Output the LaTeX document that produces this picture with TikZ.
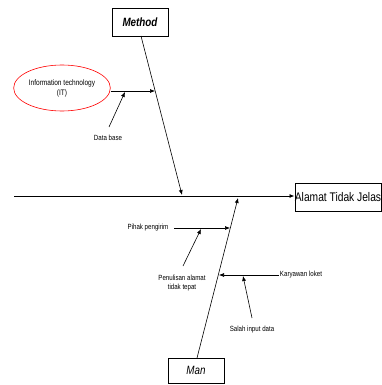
\documentclass[tikz,border=0pt]{standalone}
\usepackage{fontspec}
\setmainfont[FakeStretch=0.82]{Liberation Sans}
\usetikzlibrary{shapes.geometric,arrows.meta}

\tikzset{
  bone/.style={draw=black, semithick},
  tip/.style={-{Latex[length=5pt,width=4pt]}},
  catbox/.style={draw=black, thick, minimum width=56pt, minimum height=28pt, inner sep=0pt, font=\fontsize{12}{14}\selectfont\itshape},
  cause/.style={font=\fontsize{7.5}{9}\selectfont, align=center, inner sep=1pt}
}

\begin{document}
\begin{tikzpicture}[x=1pt,y=-1pt]
        \useasboundingbox (0,0) rectangle (382,385);
        % head and categories
        \node[catbox, minimum width=86pt, font=\fontsize{12.5}{14}\selectfont] (effect) at (338,197) {Alamat Tidak Jelas};
        \node[catbox, font=\fontsize{12}{14}\selectfont\bfseries\itshape] (method) at (140,22) {Method};
        \node[catbox, minimum height=25pt] (man) at (196,370.5) {Man};

        % spine
        \coordinate (tail) at (14,196);
        \draw[bone, thick, tip] (tail) -- (effect.west |- tail);

        % method bone
        \coordinate (mtop) at (141,36);
        \coordinate (mend) at (182,195);
        \draw[bone, tip] (mtop) -- (mend);
        \node[ellipse, draw=red, semithick, minimum width=73pt, minimum height=46pt, inner sep=0pt, cause, font=\fontsize{8}{10}\selectfont] (it) at (62,88) {Information technology\\(IT)};
        \coordinate (itend) at (155,91);
        \draw[bone, tip] (it.east |- itend) -- (itend);
        \node[cause] (db) at (108,138) {Data base};
        \coordinate (dbend) at (125,92);
        \draw[bone, tip] (109,127) -- (dbend);

        % man bone
        \coordinate (nbot) at (197,358);
        \coordinate (nend) at (238,198);
        \draw[bone, tip] (nbot) -- (nend);
        \node[cause] (pihak) at (148,228) {Pihak pengirim};
        \coordinate (pend) at (230,228);
        \draw[bone, tip] (174,228) -- (pend);
        \node[cause] (tulis) at (182,283) {Penulisan alamat\\tidak tepat};
        \coordinate (tend) at (201,229);
        \draw[bone, tip] (183,266) -- (tend);
        \node[cause] (loket) at (301,275) {Karyawan loket};
        \coordinate (kend) at (219,275);
        \draw[bone, tip] (loket.west) -- (kend);
        \node[cause] (salah) at (252,330) {Salah input data};
        \coordinate (send) at (243,276);
        \draw[bone, tip] (252,318) -- (send);
\end{tikzpicture}
\end{document}
